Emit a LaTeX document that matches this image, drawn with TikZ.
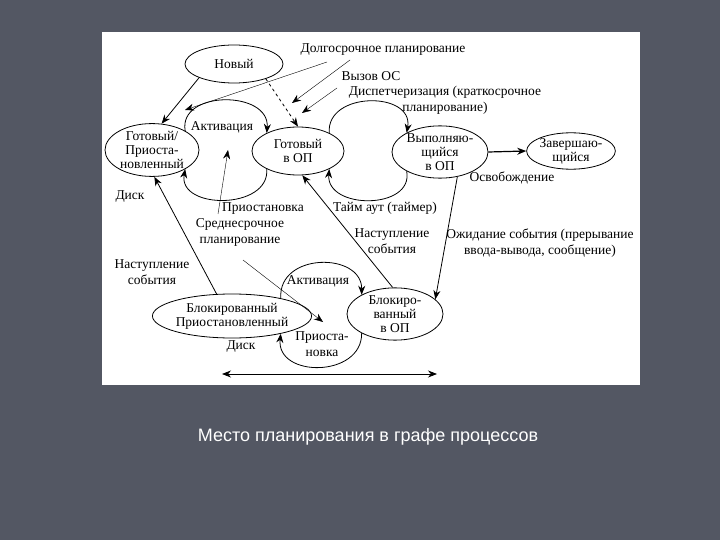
\documentclass[tikz,border=0pt]{standalone}
\usepackage{fontspec}
\setmainfont{Liberation Serif}
\newfontfamily\captionfont{Liberation Sans}
\usetikzlibrary{arrows.meta,shapes.geometric}
\definecolor{slidebg}{RGB}{83,87,99}

\begin{document}
\begin{tikzpicture}[->,>={Stealth[length=9pt,width=7pt]},thick,x=1pt,y=-1pt,
    state/.style={draw, ellipse, inner sep=0pt, align=center, font=\fontsize{13.5}{14}\selectfont},
    lbl/.style={align=center, font=\fontsize{13.5}{16}\selectfont},
    note/.style={->, thin}]
  \useasboundingbox (0,0) rectangle (720,540);

  % Slide and panel
  \fill[slidebg, -] (0,0) rectangle (720,540);
  \fill[white, -] (102,32) rectangle (640,385);
  \node[white, font=\captionfont\fontsize{18}{20}\selectfont] (cap) at (368,437) {Место планирования в графе процессов};

  % States
  \node[state, minimum width=98pt, minimum height=38pt] (new) at (234,64) {Новый};
  \node[state, minimum width=94pt, minimum height=48pt] (rs) at (152,150) {Готовый/\\Приоста-\\новленный};
  \node[state, minimum width=92pt, minimum height=48pt] (rop) at (298,151) {Готовый\\в ОП};
  \node[state, minimum width=96pt, minimum height=46pt] (run) at (440,152) {Выполняю-\\щийся\\в ОП};
  \node[state, minimum width=74pt, minimum height=34pt] (fin) at (571,151) {Завершаю-\\щийся};
  \node[state, minimum width=130pt, minimum height=44pt] (bs) at (232,316) {Блокированный\\Приостановленный};
  \node[state, minimum width=96pt, minimum height=52pt] (bop) at (395,314) {Блокиро-\\ванный\\в ОП};

  % Transitions
  \draw (new.south west) -- (rs.70);
  \draw[dashed] (new.-25) -- (rop.north);
  \draw (rs.30) .. controls (178,90) and (270,90) .. (rop.150);
  \draw (rop.-150) .. controls (270,210) and (178,210) .. (rs.-30);
  \draw (rop.30) .. controls (326,91) and (414,91) .. (run.150);
  \draw (run.-150) .. controls (414,210) and (326,210) .. (rop.-30);
  \draw[very thick] (run.east) -- (fin.west);
  \draw (run.-55) -- (bop.20);
  \draw (bop.95) -- (rop.-80);
  \draw (bs.125) -- (rs.-85);
  \draw (bs.20) .. controls (278,252) and (362,252) .. (bop.150);
  \draw (bop.-150) .. controls (362,378) and (276,378) .. (bs.-20);

  % Labels
  \node[lbl] (lt) at (383,50) {Долгосрочное планирование};
  \node[lbl] (sc) at (371,76) {Вызов ОС};
  \node[lbl] (disp) at (445,100) {Диспетчеризация (краткосрочное\\планирование)};
  \node[lbl, fill=white, inner sep=1pt] (act1) at (222,127) {Активация};
  \node[lbl] (sus1) at (263,209) {Приостановка};
  \node[lbl] (mid) at (240,232) {Среднесрочное\\планирование};
  \node[lbl] (tmo) at (385,208) {Тайм аут (таймер)};
  \node[lbl] (rel) at (512,178) {Освобождение};
  \node[lbl] (ev1) at (392,241) {Наступление\\события};
  \node[lbl] (wait) at (540,243) {Ожидание события (прерывание\\ввода-вывода, сообщение)};
  \node[lbl] (disk1) at (130,197) {Диск};
  \node[lbl] (ev2) at (152,272) {Наступление\\события};
  \node[lbl] (act2) at (318,281) {Активация};
  \node[lbl] (sus2) at (322,344) {Приоста-\\новка};
  \node[lbl] (disk2) at (241,347) {Диск};

  % Pointers from the planning labels
  \coordinate (ltA) at (327,62);
  \coordinate (ltB) at (350,60);
  \coordinate (scA) at (337,88);
  \coordinate (midA) at (218,214);
  \coordinate (midB) at (243,260);
  \coordinate (tipA) at (185,110);
  \coordinate (tipB) at (292,103);
  \coordinate (tipC) at (302,113);
  \coordinate (tipD) at (228,150);
  \coordinate (tipE) at (323,322);
  \draw[note] (ltA) -- (tipA);
  \draw[note] (ltB) -- (tipB);
  \draw[note] (scA) -- (tipC);
  \draw[note] (midA) -- (tipD);
  \draw[note] (midB) -- (tipE);

  % Disk
  \coordinate (dl) at (222,374);
  \coordinate (dr) at (437,374);
  \draw[<->] (dl) -- (dr);
\end{tikzpicture}
\end{document}
